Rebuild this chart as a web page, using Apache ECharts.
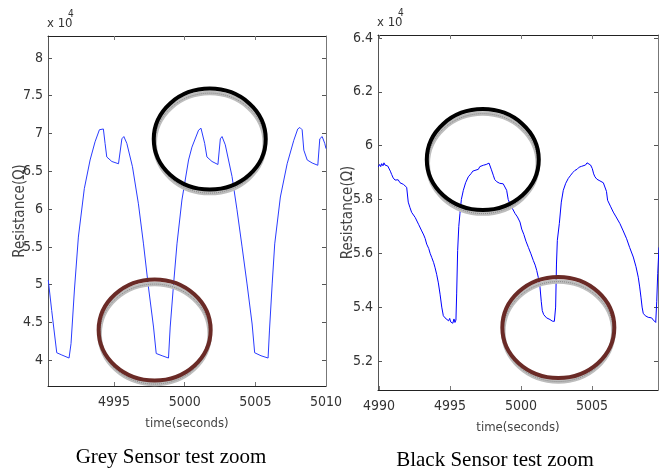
<!DOCTYPE html>
<html>
<head>
<meta charset="utf-8">
<script src="https://cdn.jsdelivr.net/npm/echarts@6/dist/echarts.min.js"></script>
<style>
html,body{margin:0;padding:0;background:#fff;}
#c{width:666px;height:473px;}
</style>
</head>
<body>
<div id="c"></div>
<script>
// ---- Data (resistance in units of x10^4 ohm) ----
const greyTime = [4990.34,4990.58,4990.94,4991.30,4991.81,4991.95,4992.19,4992.47,4992.89,4993.30,4993.65,4993.96,4994.10,4994.24,4994.36,4994.48,4994.84,4995.31,4995.40,4995.55,4995.69,4995.90,4996.30,4996.72,4997.08,4997.43,4997.79,4997.98,4998.40,4998.85,4998.97,4999.21,4999.45,4999.80,5000.27,5000.51,5000.98,5001.15,5001.25,5001.41,5001.57,5001.93,5002.35,5002.45,5002.52,5002.64,5002.87,5003.35,5003.70,5004.06,5004.41,5004.77,5004.95,5005.40,5005.90,5006.00,5006.19,5006.37,5006.77,5007.25,5007.72,5008.00,5008.15,5008.31,5008.43,5008.67,5009.02,5009.42,5009.56,5009.73,5009.91,5010.00];
const greyRes  = [5.06,4.66,4.10,4.07,4.03,4.22,4.93,5.63,6.27,6.65,6.89,7.05,7.07,7.06,6.87,6.69,6.63,6.60,6.58,6.93,6.96,6.87,6.56,6.07,5.54,4.97,4.44,4.09,4.06,4.03,4.44,5.01,5.54,6.12,6.65,6.82,7.045,7.07,7.06,6.87,6.69,6.63,6.59,6.58,6.93,6.96,6.85,6.43,5.99,5.50,5.01,4.48,4.10,4.06,4.03,4.40,5.01,5.54,6.16,6.60,6.91,7.06,7.08,7.05,6.78,6.65,6.61,6.58,6.93,6.96,6.87,6.80];

const blackTime = [4989.95,4990.05,4990.12,4990.19,4990.28,4990.35,4990.42,4990.52,4990.62,4990.70,4990.80,4990.89,4991.00,4991.13,4991.25,4991.35,4991.48,4991.60,4991.72,4991.83,4991.95,4992.06,4992.18,4992.30,4992.42,4992.55,4992.65,4992.80,4992.90,4993.01,4993.15,4993.25,4993.36,4993.50,4993.60,4993.71,4993.85,4993.95,4994.06,4994.18,4994.30,4994.42,4994.53,4994.65,4994.77,4994.90,4994.98,4995.05,4995.12,4995.20,4995.28,4995.35,4995.42,4995.47,4995.54,4995.62,4995.70,4995.80,4995.94,4996.10,4996.29,4996.50,4996.60,4996.76,4996.90,4997.00,4997.10,4997.23,4997.35,4997.45,4997.55,4997.65,4997.75,4997.82,4997.92,4998.05,4998.15,4998.29,4998.40,4998.50,4998.62,4998.75,4998.88,4998.99,4999.10,4999.22,4999.40,4999.58,4999.75,4999.93,5000.05,5000.20,5000.35,5000.52,5000.70,5000.87,5001.00,5001.11,5001.22,5001.34,5001.43,5001.50,5001.60,5001.69,5001.80,5001.90,5002.04,5002.12,5002.20,5002.28,5002.35,5002.40,5002.44,5002.50,5002.56,5002.70,5002.84,5002.98,5003.15,5003.33,5003.50,5003.65,5003.80,5003.95,5004.10,5004.27,5004.40,5004.55,5004.65,5004.79,5004.90,5005.02,5005.12,5005.21,5005.35,5005.45,5005.56,5005.68,5005.80,5005.92,5006.02,5006.10,5006.30,5006.50,5006.70,5006.97,5007.20,5007.44,5007.65,5007.91,5008.10,5008.26,5008.36,5008.45,5008.53,5008.61,5008.75,5008.96,5009.10,5009.20,5009.32,5009.40,5009.49,5009.56,5009.63,5009.72];
const blackRes  = [5.921,5.930,5.922,5.933,5.925,5.936,5.928,5.935,5.924,5.927,5.905,5.893,5.880,5.872,5.868,5.873,5.862,5.866,5.856,5.861,5.845,5.790,5.770,5.752,5.745,5.733,5.727,5.706,5.700,5.683,5.668,5.655,5.634,5.618,5.600,5.585,5.565,5.546,5.522,5.490,5.448,5.400,5.368,5.360,5.354,5.349,5.358,5.345,5.352,5.340,5.356,5.343,5.352,5.449,5.610,5.700,5.747,5.800,5.834,5.862,5.884,5.897,5.905,5.908,5.915,5.912,5.922,5.921,5.927,5.924,5.930,5.926,5.935,5.931,5.910,5.890,5.874,5.866,5.871,5.860,5.866,5.858,5.852,5.834,5.800,5.784,5.766,5.748,5.735,5.716,5.690,5.670,5.645,5.622,5.598,5.573,5.556,5.536,5.510,5.474,5.420,5.387,5.372,5.366,5.360,5.362,5.354,5.358,5.348,5.355,5.347,5.352,5.400,5.560,5.648,5.710,5.790,5.834,5.860,5.878,5.890,5.900,5.908,5.912,5.920,5.923,5.930,5.928,5.936,5.936,5.928,5.915,5.895,5.884,5.875,5.872,5.869,5.865,5.862,5.859,5.830,5.797,5.775,5.753,5.735,5.710,5.683,5.654,5.622,5.586,5.550,5.511,5.475,5.437,5.400,5.377,5.368,5.362,5.356,5.360,5.352,5.347,5.343,5.420,5.524,5.622];

const greyXTicks  = [4995, 5000, 5005, 5010];
const greyYTicks  = [4, 4.5, 5, 5.5, 6, 6.5, 7, 7.5, 8];
const blackXTicks = [4990, 4995, 5000, 5005];
const blackYTicks = [5.2, 5.4, 5.6, 5.8, 6, 6.2, 6.4];

const captions = ['Grey Sensor test zoom', 'Black Sensor test zoom'];
const yName = 'Resistance(\u03A9)';
const xName = 'time(seconds)';

// annotation ellipses, centres in data coordinates
const ellipses = [
  {grid: 0, center: [5001.77, 6.926], color: '#000000'},
  {grid: 0, center: [4997.87, 4.40], color: '#6a2a26'},
  {grid: 1, center: [4997.31, 5.948], color: '#000000'},
  {grid: 1, center: [5002.63, 5.324], color: '#6a2a26'}
];

// ---- Chart ----
const zip = (a, b) => a.map((v, i) => [v, b[i]]);
const FONT = '"Liberation Sans Narrow","DejaVu Sans Condensed","Liberation Sans",Arial,sans-serif';
const tickStyle = {color: '#333', fontFamily: FONT, fontSize: 14};

function xAxes(gi, min, max, ticks) {
  return [
    {type: 'value', gridIndex: gi, position: 'bottom', min, max,
     axisLine: {lineStyle: {color: '#222', width: 1}},
     axisTick: {inside: true, length: 4, customValues: ticks, lineStyle: {color: '#777'}},
     axisLabel: Object.assign({customValues: ticks, margin: 9, formatter: v => String(v)}, tickStyle),
     splitLine: {show: false},
     name: xName, nameLocation: 'middle', nameGap: 31, nameMoveOverlap: false,
     nameTextStyle: {color: '#444', fontFamily: FONT, fontSize: 13}},
    {type: 'value', gridIndex: gi, position: 'top', min, max,
     axisLine: {lineStyle: {color: '#222', width: 1}},
     axisTick: {inside: true, length: 4, customValues: ticks, lineStyle: {color: '#777'}},
     axisLabel: {show: false}, splitLine: {show: false}}
  ];
}
function yAxes(gi, min, max, ticks, gap) {
  return [
    {type: 'value', gridIndex: gi, position: 'left', min, max,
     axisLine: {lineStyle: {color: '#555', width: 1}},
     axisTick: {inside: true, length: 4, customValues: ticks, lineStyle: {color: '#555'}},
     axisLabel: Object.assign({customValues: ticks, margin: 5, formatter: v => String(v)}, tickStyle),
     splitLine: {show: false},
     name: yName, nameLocation: 'middle', nameRotate: 90, nameGap: gap, nameMoveOverlap: false,
     nameTextStyle: {color: '#444', fontFamily: FONT, fontSize: 15}},
    {type: 'value', gridIndex: gi, position: 'right', min, max,
     axisLine: {lineStyle: {color: '#777', width: 1}},
     axisTick: {inside: true, length: 4, customValues: ticks, lineStyle: {color: '#555'}},
     axisLabel: {show: false}, splitLine: {show: false}}
  ];
}

const chart = echarts.init(document.getElementById('c'), null, {renderer: 'canvas'});
chart.setOption({
  animation: false,
  backgroundColor: '#ffffff',
  grid: [
    {left: 48, top: 36, width: 278, height: 350},
    {left: 378, top: 35, width: 280, height: 355}
  ],
  xAxis: [].concat(xAxes(0, 4990.32, 5010, greyXTicks), xAxes(1, 4989.93, 5009.65, blackXTicks)),
  yAxis: [].concat(yAxes(0, 3.66, 8.29, greyYTicks, 20), yAxes(1, 5.092, 6.411, blackYTicks, 22)),
  series: [
    {type: 'line', xAxisIndex: 0, yAxisIndex: 0, data: zip(greyTime, greyRes),
     showSymbol: false, lineStyle: {color: '#2a3cff', width: 1}, z: 2},
    {type: 'line', xAxisIndex: 2, yAxisIndex: 2, data: zip(blackTime, blackRes),
     showSymbol: false, lineStyle: {color: '#0000ff', width: 1}, z: 2}
  ]
});

const g = [];
ellipses.forEach(e => {
  const p = chart.convertToPixel({gridIndex: e.grid}, e.center);
  g.push({type: 'ellipse', z: 10, silent: true,
    shape: {cx: p[0], cy: p[1] + 4, rx: 55, ry: 50},
    style: {fill: 'none', stroke: '#bdbdbd', lineWidth: 4.5}});
  g.push({type: 'ellipse', z: 10, silent: true,
    shape: {cx: p[0], cy: p[1] + 4, rx: 55, ry: 50},
    style: {fill: 'none', stroke: '#8a8a8a', lineWidth: 1, lineDash: [1, 1]}});
  g.push({type: 'ellipse', z: 11, silent: true,
    shape: {cx: p[0], cy: p[1], rx: 56, ry: 50.5},
    style: {fill: 'none', stroke: e.color, lineWidth: 4}});
});
// x10^4 exponent labels
[[47, 17], [377, 16]].forEach(pos => {
  g.push({type: 'text', x: pos[0], y: pos[1], z: 12,
    style: {text: 'x 10', fill: '#333', font: '13px ' + FONT}});
  g.push({type: 'text', x: pos[0] + 21, y: pos[1] - 8, z: 12,
    style: {text: '4', fill: '#333', font: '10px ' + FONT}});
});
// captions
g.push({type: 'text', x: 171, y: 447, z: 12,
  style: {text: captions[0], fill: '#000', font: '21px "Liberation Serif","Times New Roman",serif', align: 'center'}});
g.push({type: 'text', x: 495, y: 450, z: 12,
  style: {text: captions[1], fill: '#000', font: '21px "Liberation Serif","Times New Roman",serif', align: 'center'}});
chart.setOption({graphic: g});
</script>
</body>
</html>
